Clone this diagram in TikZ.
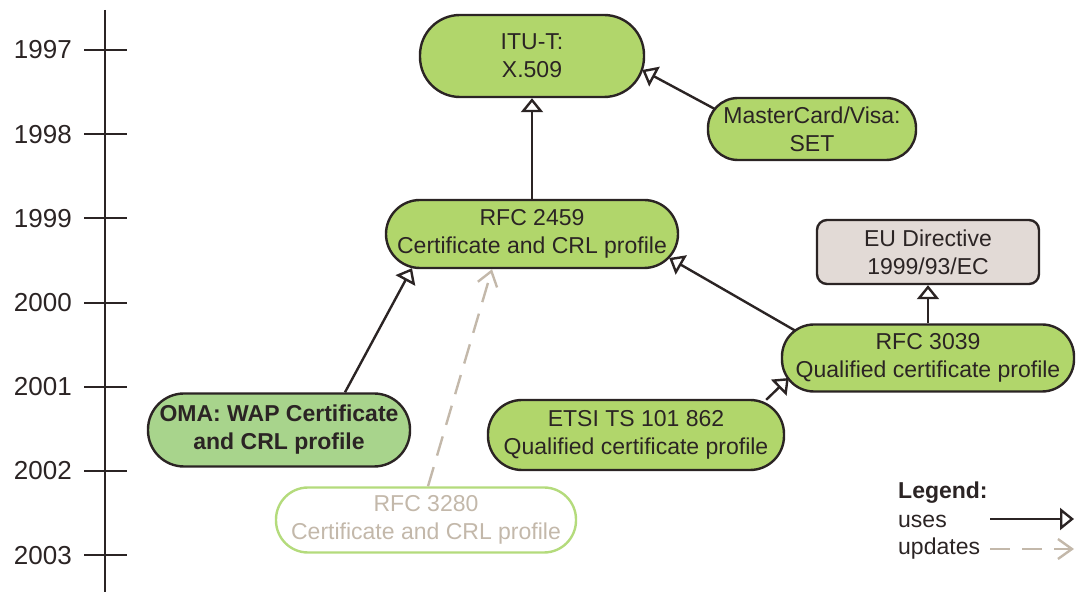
\documentclass[tikz,border=0pt]{standalone}
\usepackage{fontspec}
\setmainfont{Liberation Sans}
\usetikzlibrary{arrows.meta, calc, positioning}

\definecolor{boxgreen}{HTML}{B1D66B}
\definecolor{omagreen}{HTML}{A8D48C}
\definecolor{dirgray}{HTML}{E2DAD6}
\definecolor{darkline}{HTML}{2B2424}
\definecolor{updgray}{HTML}{C3B8AA}
\definecolor{newgreen}{HTML}{B4DB7C}

\begin{document}
\begin{tikzpicture}[x=0.5pt, y=-0.5pt, line width=1.2pt, draw=darkline, text=darkline,
	font=\fontsize{11.5}{14}\selectfont,
	pill/.style={draw=darkline, fill=boxgreen, rounded corners=16pt, align=center, inner sep=1pt},
	dirbox/.style={draw=darkline, fill=dirgray, rounded corners=5pt, align=center, inner sep=1pt},
	uses/.style={-{Triangle[open, length=7pt, width=11pt]}, darkline},
	updates/.style={-{Straight Barb[length=7pt, width=10pt]}, updgray, dash pattern=on 10pt off 6pt}]
	\useasboundingbox (0,0) rectangle (1076,592);
	
	% time axis
	\draw[line width=1pt] (105,10) -- (105,592);
	\foreach \yr [count=\i from 0] in {1997,1998,1999,2000,2001,2002,2003} {
		\draw[line width=1pt] (84,50+84.2*\i) -- (127,50+84.2*\i);
		\node[anchor=east, inner sep=0, font=\fontsize{13}{15}\selectfont] (y\yr) at (73,50+84.2*\i) {\yr};
	}
	
	\node[pill, rounded corners=20pt, minimum width=112pt, minimum height=41pt] (itu) at (532,56) {ITU-T:\\X.509};
	\node[pill, rounded corners=15pt, minimum width=104pt, minimum height=31pt] (set) at (812,129) {MasterCard/Visa:\\SET};
	\node[pill, rounded corners=17pt, minimum width=146pt, minimum height=34pt] (rfc2459) at (532,234) {RFC 2459\\Certificate and CRL profile};
	\node[dirbox, minimum width=111pt, minimum height=32pt] (eudir) at (928,252) {EU Directive\\1999/93/EC};
	\node[pill, minimum width=146pt, minimum height=33.5pt] (rfc3039) at (928,358) {RFC 3039\\Qualified certificate profile};
	\node[pill, fill=omagreen, font=\fontsize{11.5}{14}\selectfont\bfseries, rounded corners=18pt, minimum width=131pt, minimum height=36.5pt] (oma) at (279,430) {OMA: WAP Certificate\\and CRL profile};
	\node[pill, rounded corners=17pt, minimum width=148pt, minimum height=35pt] (etsi) at (636,435) {ETSI TS 101 862\\Qualified certificate profile};
	\node[pill, draw=newgreen, fill=white, text=updgray, minimum width=150pt, minimum height=32.5pt] (rfc3280) at (426,520) {RFC 3280\\Certificate and CRL profile};
	
	\draw[uses] (rfc2459) -- (itu);
	\draw[uses] ($(set.west)+(8,-20)$) -- ($(itu.east)+(-3,14)$);
	\draw[uses] ($(oma.north)+(66,0)$) -- ($(rfc2459.south)+(-120,-1)$);
	\draw[updates] ($(rfc3280.north)+(2,0)$) -- ($(rfc2459.south)+(-40,0)$);
	\draw[uses] ($(rfc3039.west)+(15,-27)$) -- ($(rfc2459.east)+(-10,24)$);
	\draw[uses] ($(etsi.north east)+(-19,1)$) -- ($(rfc3039.west)+(8,20)$);
	\draw[uses] (rfc3039) -- (eudir);
	
	% legend
	\node[anchor=west, inner sep=0, font=\fontsize{11.5}{14}\selectfont\bfseries] (legend) at (897,493) {Legend:};
	\node[anchor=west, inner sep=0] (usestext) at (897,521) {uses};
	\node[anchor=west, inner sep=0] (updtext) at (897,549) {updates};
	\coordinate (ua) at (990,519);
	\coordinate (ub) at (1074,519);
	\coordinate (da) at (990,549);
	\coordinate (db) at (1074,549);
	\draw[uses] (ua) -- (ub);
	\draw[updates] (da) -- (db);
\end{tikzpicture}
\end{document}
